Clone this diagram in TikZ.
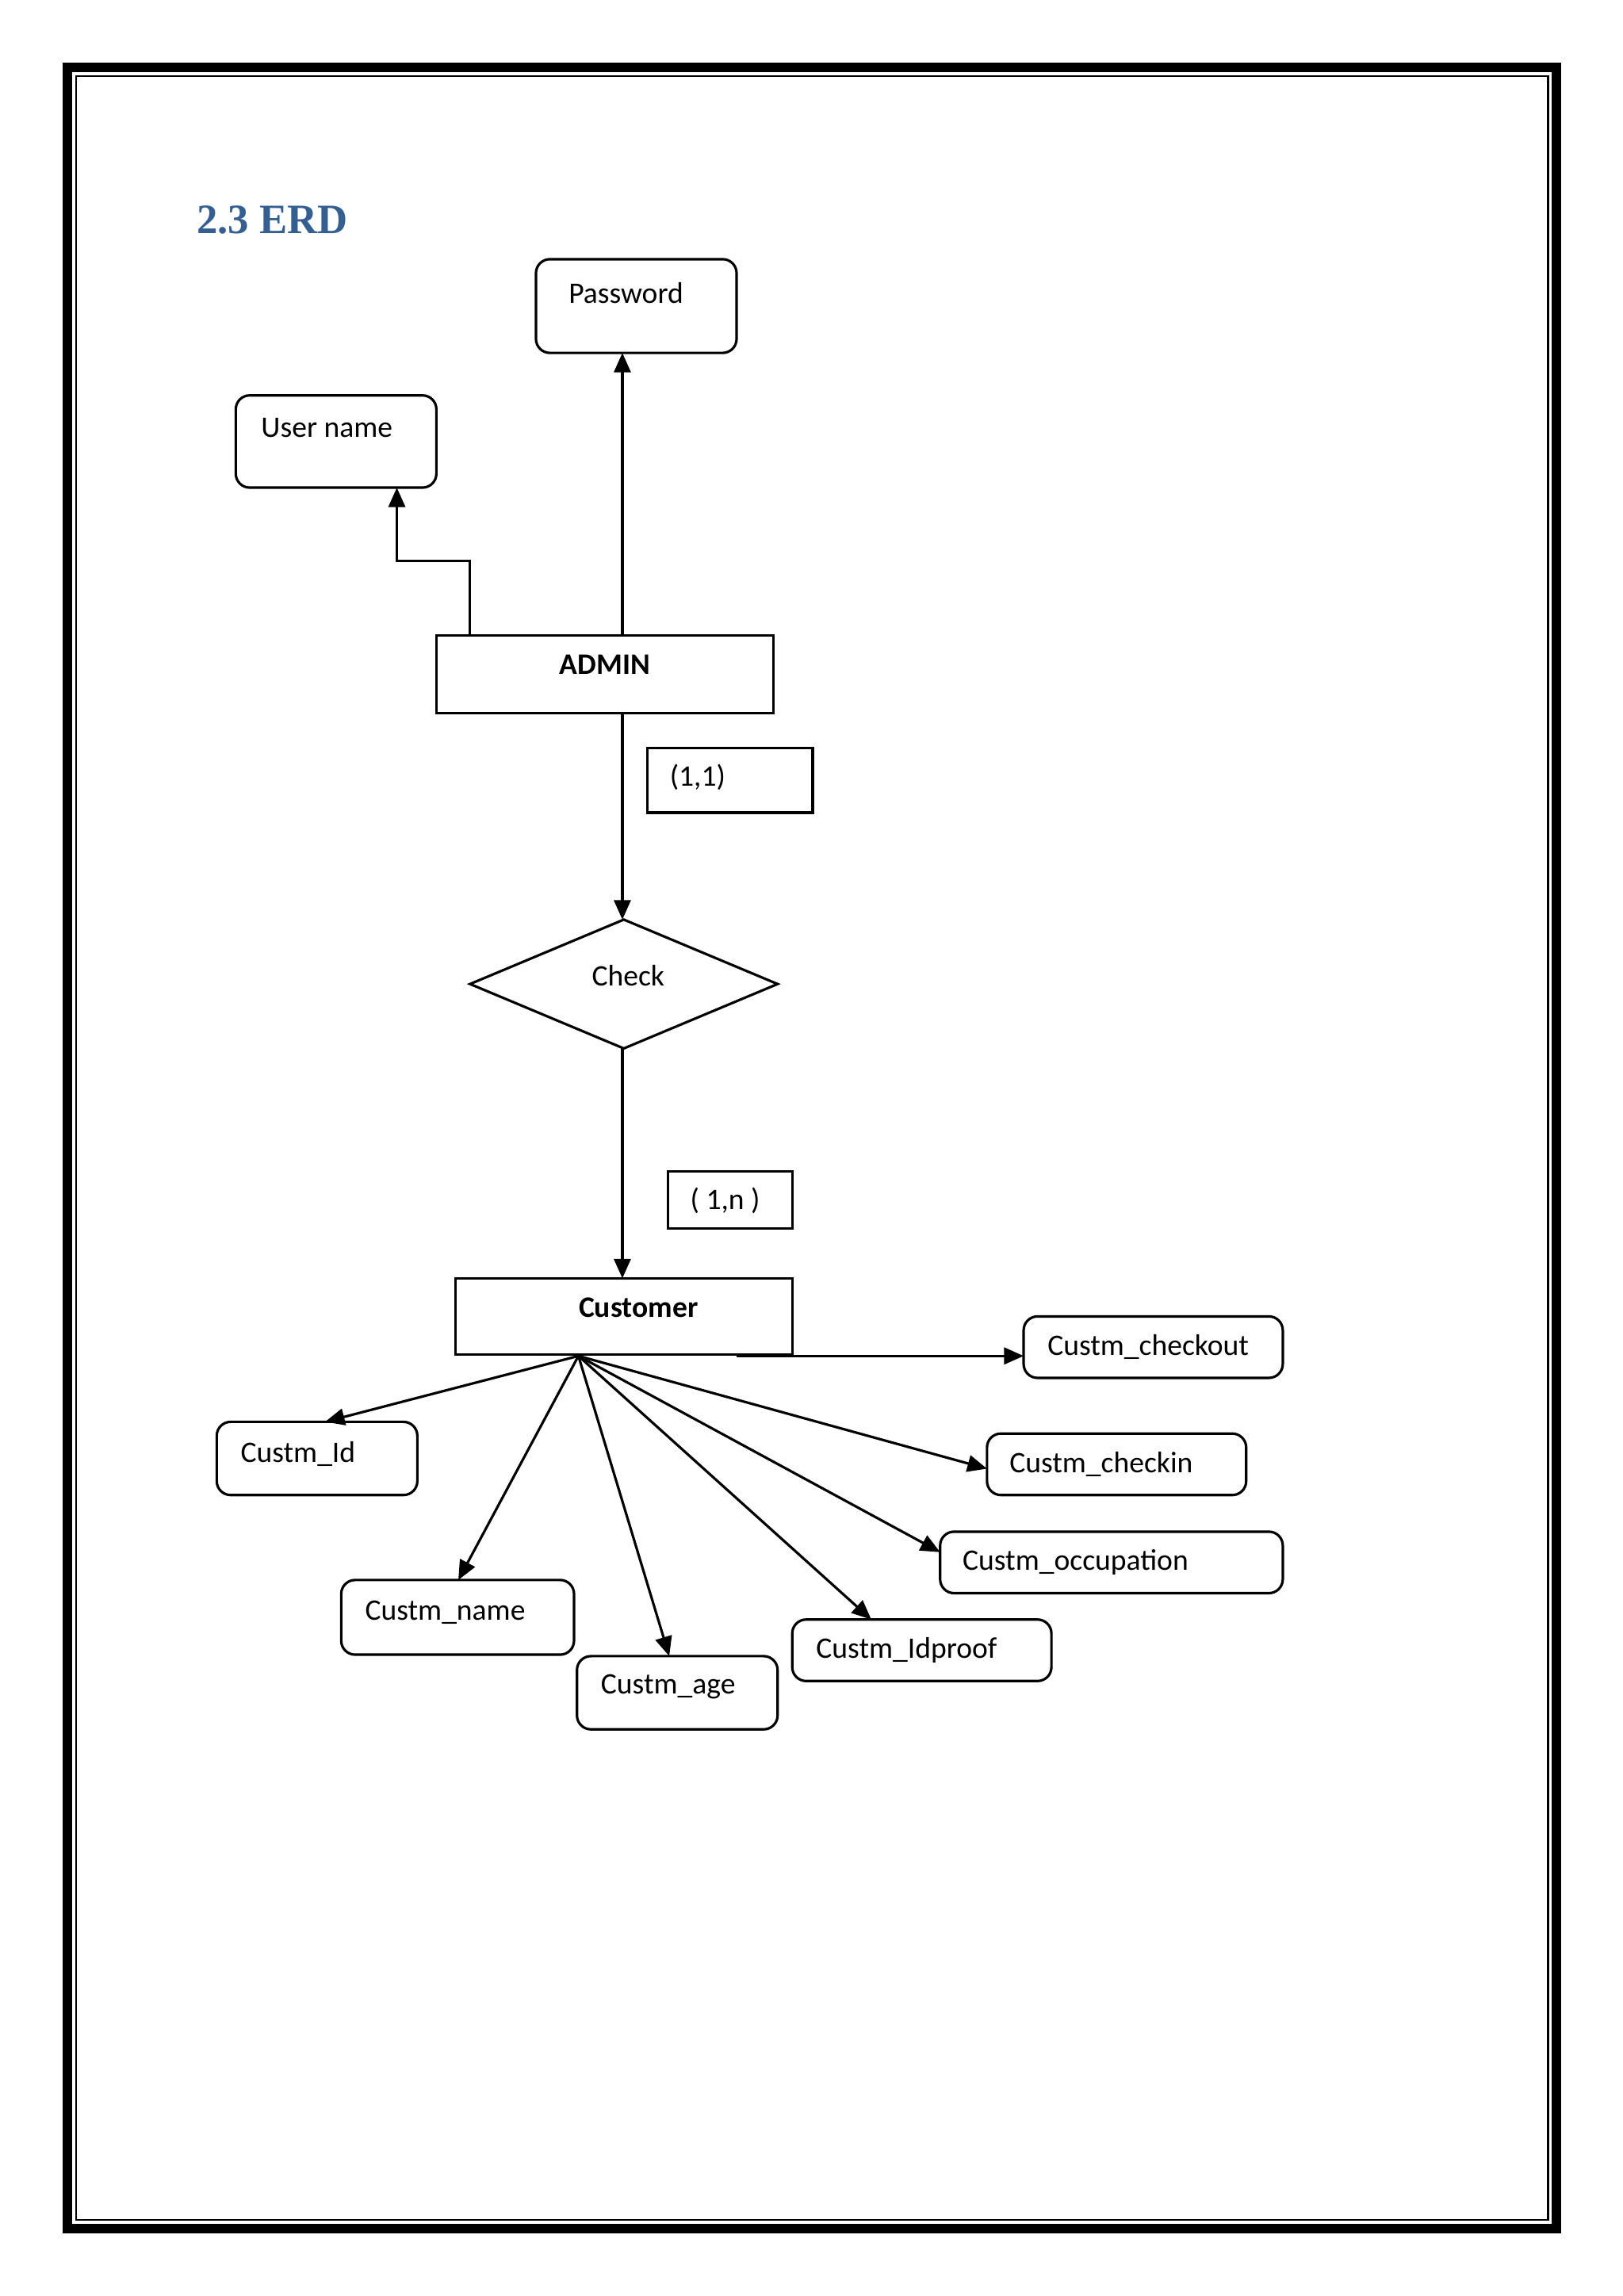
\documentclass[tikz,border=0pt]{standalone}
\usepackage{fontspec}
\setmainfont{Carlito}
\newfontfamily\ttl{Liberation Serif}
\usetikzlibrary{arrows.meta}
\definecolor{ttlblue}{RGB}{54,95,145}
\begin{document}
\begin{tikzpicture}[x=0.01848cm,y=-0.01848cm,
  box/.style={draw,line width=0.9pt,rounded corners=5pt},
  ent/.style={draw,line width=0.9pt},
  txt/.style={anchor=west,inner sep=0,font=\fontsize{10.7}{12}\selectfont},
  con/.style={line width=0.9pt,-{Triangle[length=7pt,width=6pt]}}]
\useasboundingbox (0,0) rectangle (1108,1568);
\fill[white] (0,0) rectangle (1108,1568);
\draw[line width=3.5pt] (46,46) rectangle (1063,1522);
\draw[line width=0.8pt] (52,52) rectangle (1057,1516);
\node[anchor=west,inner sep=0,font=\ttl\bfseries\fontsize{15}{18}\selectfont,text=ttlblue] (title) at (134,150) {2.3 ERD};
% boxes
\draw[box] (366,177) rectangle (503,241); \node[txt] (pw) at (388,200) {Password};
\draw[box] (161,270) rectangle (298,333); \node[txt] (un) at (178,292) {User name};
\draw[ent] (298,434) rectangle (528,487); \node[txt,anchor=center,font=\bfseries\fontsize{10.7}{12}\selectfont] (admin) at (413,454) {ADMIN};
\draw[ent] (442,511) rectangle (555,555); \node[txt] (c11) at (457,531) {(1,1)};
\draw[line width=0.9pt] (321,672) -- (426,628) -- (531,672) -- (426,716) -- cycle;
\node[txt,anchor=center] (check) at (429,666) {Check};
\draw[ent] (456,800) rectangle (541,839); \node[txt] (c1n) at (471,820) {( 1,n )};
\draw[ent] (311,873) rectangle (541,925); \node[txt,anchor=center,font=\bfseries\fontsize{10.7}{12}\selectfont] (cust) at (436,893) {Customer};
\draw[box] (699,899) rectangle (876,941); \node[txt] (cout) at (715,920) {Custm\_checkout};
\draw[box] (674,979) rectangle (851,1021); \node[txt] (cin) at (689,1000) {Custm\_checkin};
\draw[box] (642,1046) rectangle (876,1088); \node[txt] (occ) at (657,1067) {Custm\_occupation};
\draw[box] (541,1106) rectangle (718,1148); \node[txt] (idp) at (557,1127) {Custm\_Idproof};
\draw[box] (394,1131) rectangle (531,1181); \node[txt] (age) at (410,1152) {Custm\_age};
\draw[box] (233,1079) rectangle (392,1130); \node[txt] (name) at (249,1101) {Custm\_name};
\draw[box] (148,971) rectangle (285,1021); \node[txt] (cid) at (164,993) {Custm\_Id};
% connectors
\coordinate (a1) at (425,434); \coordinate (pwb) at (425,241);
\coordinate (a2) at (321,434); \coordinate (unb) at (271,333);
\coordinate (ab) at (425,487); \coordinate (ct) at (425,628);
\coordinate (cb) at (425,716); \coordinate (cut) at (425,873);
\coordinate (f) at (395,926); \coordinate (s) at (503,926);
\draw[con] (a1) -- (pwb);
\draw[con] (a2) -- (321,383) -- (271,383) -- (unb);
\draw[con] (ab) -- (ct);
\draw[con] (cb) -- (cut);
\draw[con] (s) -- (699,926);
\draw[con] (f) -- (222,971);
\draw[con] (f) -- (313,1079);
\draw[con] (f) -- (457,1131);
\draw[con] (f) -- (595,1106);
\draw[con] (f) -- (642,1060);
\draw[con] (f) -- (674,1003);
\end{tikzpicture}
\end{document}
